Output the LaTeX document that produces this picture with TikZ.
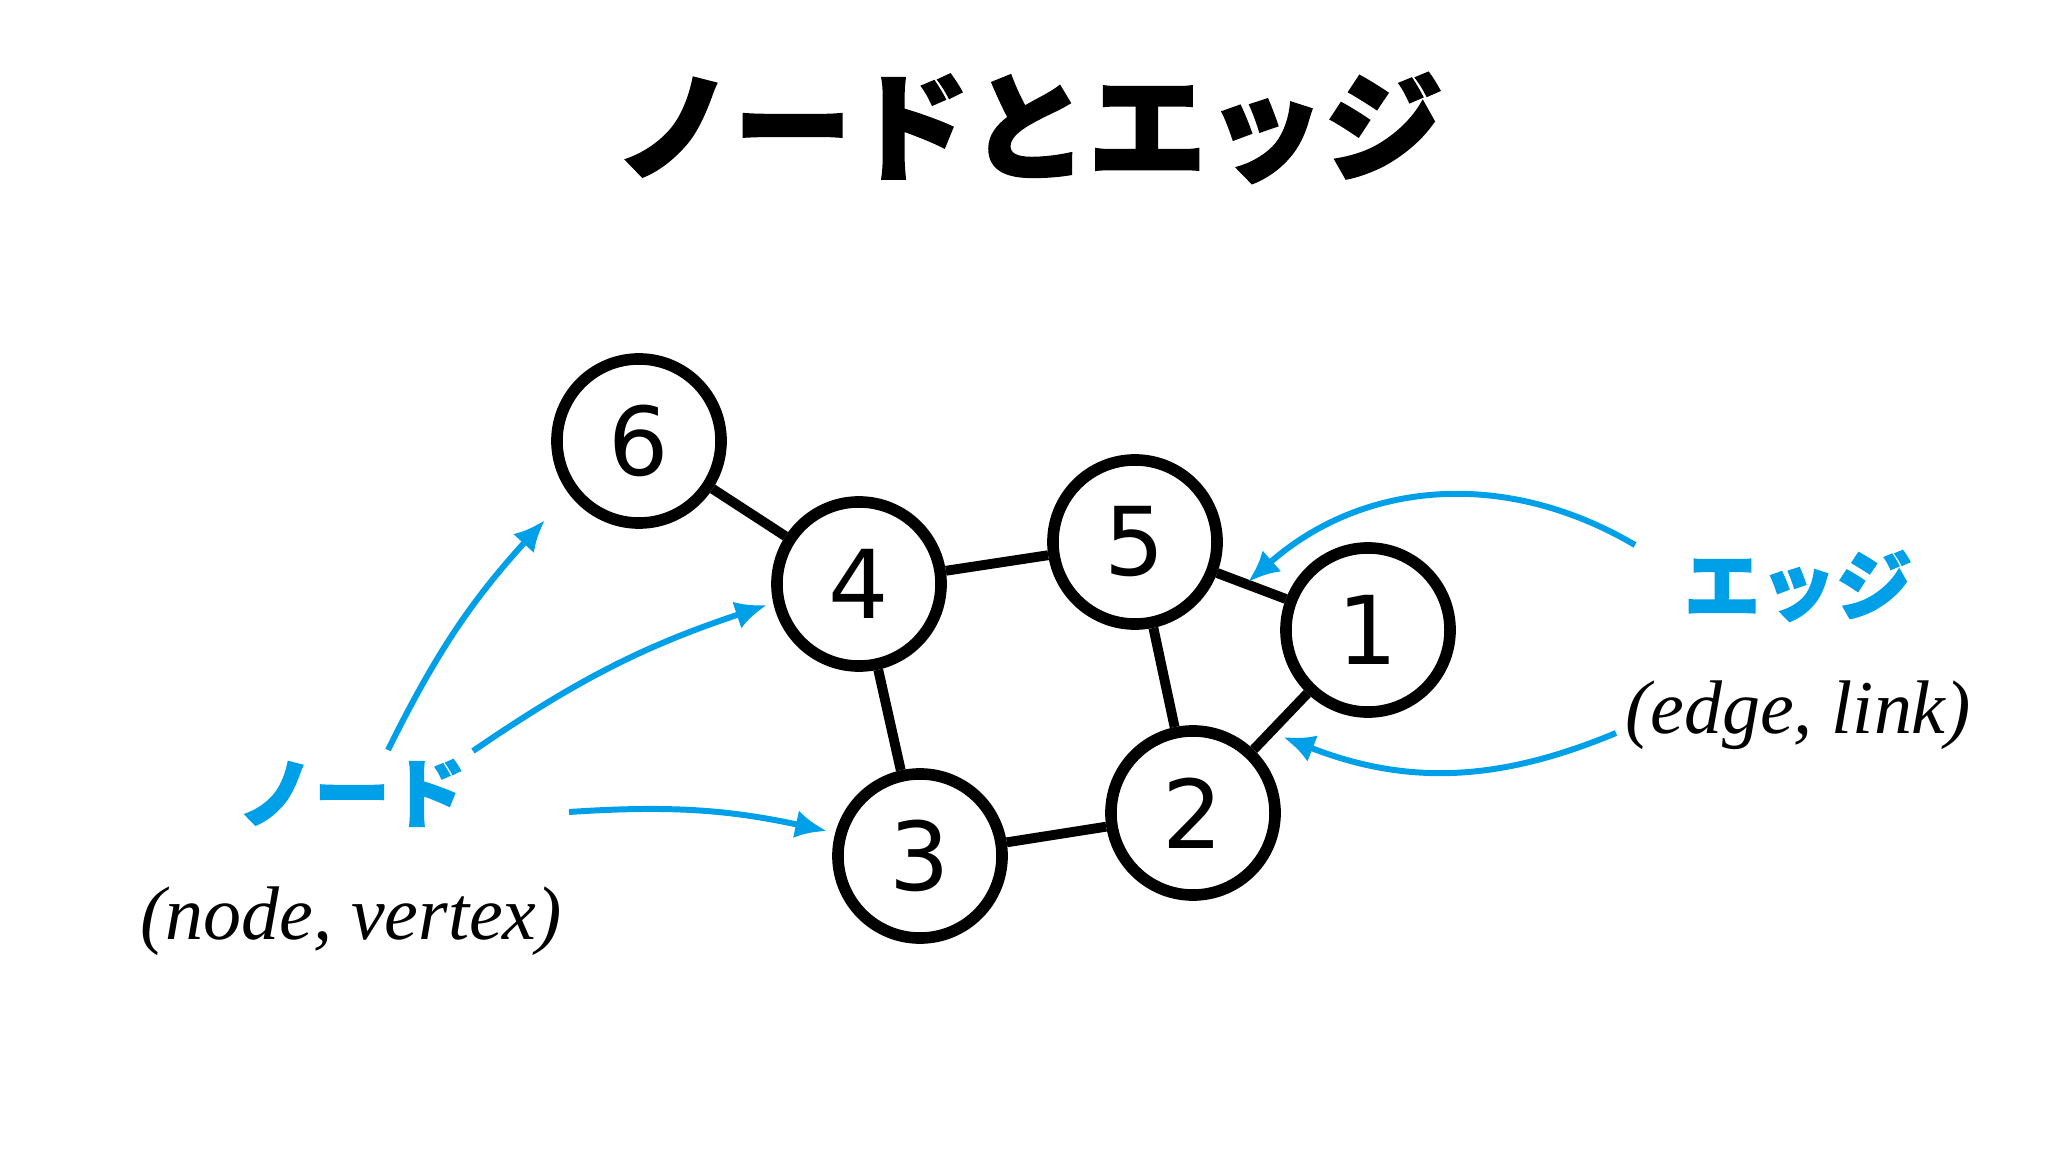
\documentclass[tikz,border=0pt]{standalone}
\usepackage{fontspec}
\setmainfont{Liberation Serif}
\newfontfamily\cjk{Noto Sans CJK JP Black}[FakeBold=2]
\newfontfamily\numfont{DejaVu Sans}
\usepackage{tikz}
\usetikzlibrary{arrows.meta,positioning}
\definecolor{azul}{RGB}{0,160,233}
\tikzstyle{vertice} = [circle, draw, line width=3.3pt, minimum size=1.64cm, inner sep=0pt, font=\numfont\fontsize{27}{27}\selectfont]
\tikzstyle{arista} = [line width=2.8pt]
\tikzstyle{flecha} = [-{Latex[length=9pt,width=8pt]}, azul, line width=1.7pt]
\tikzstyle{etiqueta} = [text=azul, font=\cjk\fontsize{21.6}{22}\selectfont]
\tikzstyle{nota} = [font=\itshape\fontsize{21.6}{22}\selectfont]

\begin{document}
\begin{tikzpicture}[x=0.01cm, y=-0.01cm]
\useasboundingbox (0,0) rectangle (2048,1152);

% Titulo
\node[font=\cjk\fontsize{33.6}{34}\selectfont] (titulo) at (1029,128) {ノードとエッジ};

% Vertices
\node[vertice] (v6) at (639,441) {6};
\node[vertice] (v4) at (859,584) {4};
\node[vertice] (v5) at (1135,542) {5};
\node[vertice] (v1) at (1368,630) {1};
\node[vertice] (v2) at (1193,813) {2};
\node[vertice] (v3) at (920,856) {3};

% Aristas
\draw[arista] (v6) -- (v4);
\draw[arista] (v4) -- (v5);
\draw[arista] (v4) -- (v3);
\draw[arista] (v5) -- (v1);
\draw[arista] (v5) -- (v2);
\draw[arista] (v1) -- (v2);
\draw[arista] (v3) -- (v2);

% Etiquetas
\node[etiqueta] (nodo) at (352,793) {ノード};
\node[nota, anchor=base] (nodoen) at (351,939) {(node, vertex)};
\node[etiqueta] (arista) at (1798,586) {エッジ};
\node[nota, anchor=base] (aristaen) at (1798,733) {(edge, link)};

% Flechas
\coordinate (a6) at (388,750);
\coordinate (b6) at (545,520);
\coordinate (a4) at (473,751);
\coordinate (b4) at (767,605);
\coordinate (a3) at (569,812);
\coordinate (b3) at (827,831);
\coordinate (e1) at (1635,545);
\coordinate (f1) at (1248,582);
\coordinate (e2) at (1616,733);
\coordinate (f2) at (1283,737);

\draw[flecha] (a6) to[bend left=8] (b6);
\draw[flecha] (a4) to[bend left=8] (b4);
\draw[flecha] (a3) to[bend left=8] (b3);
\draw[flecha] (e1) to[bend right=36] (f1);
\draw[flecha] (e2) to[bend left=22] (f2);

\end{tikzpicture}
\end{document}
